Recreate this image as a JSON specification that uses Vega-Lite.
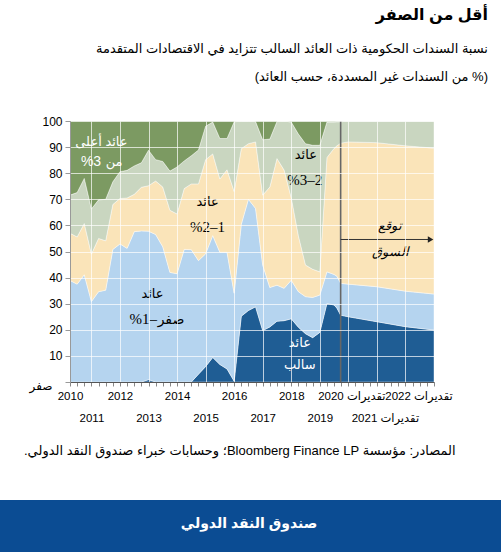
{
  "$schema": "https://vega.github.io/schema/vega-lite/v6.json",
  "width": 364,
  "height": 261,
  "autosize": {"type": "none"},
  "padding": {"left": 70, "top": 121, "right": 67, "bottom": 170},
  "background": "white",
  "config": {
    "view": {"stroke": null},
    "font": "Liberation Sans, DejaVu Sans, sans-serif",
    "axis": {"labelOverlap": false, "labelBound": false, "labelFlush": false, "zindex": 1, "labelColor": "#000000"}
  },
  "title": {
    "text": "أقل من الصفر",
    "subtitle": ["نسبة السندات الحكومية ذات العائد السالب تتزايد في الاقتصادات المتقدمة", "\u202b(% من السندات غير المسددة، حسب العائد)\u202c"],
    "anchor": "end",
    "frame": "group",
    "dx": 54,
    "offset": 31,
    "fontSize": 16,
    "fontWeight": "bold",
    "color": "#000000",
    "subtitleFontSize": 13,
    "subtitleColor": "#000000",
    "subtitlePadding": 20,
    "subtitleLineHeight": 28
  },
  "datasets": {
    "yields": [
      {"t":2010.25,"c":"1neg","v":0},{"t":2010.25,"c":"2z01","v":38.9},{"t":2010.25,"c":"3y12","v":18.1},{"t":2010.25,"c":"4y23","v":14.6},{"t":2010.25,"c":"5y3","v":28.4},
      {"t":2010.5,"c":"1neg","v":0},{"t":2010.5,"c":"2z01","v":37.5},{"t":2010.5,"c":"3y12","v":18.1},{"t":2010.5,"c":"4y23","v":17.0},{"t":2010.5,"c":"5y3","v":27.4},
      {"t":2010.75,"c":"1neg","v":0},{"t":2010.75,"c":"2z01","v":41.1},{"t":2010.75,"c":"3y12","v":19.6},{"t":2010.75,"c":"4y23","v":17.3},{"t":2010.75,"c":"5y3","v":22.0},
      {"t":2011,"c":"1neg","v":0},{"t":2011,"c":"2z01","v":30.8},{"t":2011,"c":"3y12","v":18.2},{"t":2011,"c":"4y23","v":17.3},{"t":2011,"c":"5y3","v":33.7},
      {"t":2011.25,"c":"1neg","v":0},{"t":2011.25,"c":"2z01","v":34.6},{"t":2011.25,"c":"3y12","v":20.4},{"t":2011.25,"c":"4y23","v":14.8},{"t":2011.25,"c":"5y3","v":30.2},
      {"t":2011.5,"c":"1neg","v":0},{"t":2011.5,"c":"2z01","v":35.2},{"t":2011.5,"c":"3y12","v":18.9},{"t":2011.5,"c":"4y23","v":15.9},{"t":2011.5,"c":"5y3","v":30.0},
      {"t":2011.75,"c":"1neg","v":0},{"t":2011.75,"c":"2z01","v":50.8},{"t":2011.75,"c":"3y12","v":17.2},{"t":2011.75,"c":"4y23","v":8.7},{"t":2011.75,"c":"5y3","v":23.3},
      {"t":2012,"c":"1neg","v":0},{"t":2012,"c":"2z01","v":52.9},{"t":2012,"c":"3y12","v":17.4},{"t":2012,"c":"4y23","v":10.3},{"t":2012,"c":"5y3","v":19.4},
      {"t":2012.25,"c":"1neg","v":0},{"t":2012.25,"c":"2z01","v":51.2},{"t":2012.25,"c":"3y12","v":19.3},{"t":2012.25,"c":"4y23","v":10.6},{"t":2012.25,"c":"5y3","v":18.9},
      {"t":2012.5,"c":"1neg","v":0},{"t":2012.5,"c":"2z01","v":57.6},{"t":2012.5,"c":"3y12","v":14.3},{"t":2012.5,"c":"4y23","v":10.9},{"t":2012.5,"c":"5y3","v":17.2},
      {"t":2012.75,"c":"1neg","v":0},{"t":2012.75,"c":"2z01","v":57.9},{"t":2012.75,"c":"3y12","v":16.7},{"t":2012.75,"c":"4y23","v":9.4},{"t":2012.75,"c":"5y3","v":16.0},
      {"t":2013,"c":"1neg","v":0.9},{"t":2013,"c":"2z01","v":56.9},{"t":2013,"c":"3y12","v":17.4},{"t":2013,"c":"4y23","v":13.6},{"t":2013,"c":"5y3","v":11.2},
      {"t":2013.25,"c":"1neg","v":0},{"t":2013.25,"c":"2z01","v":56.5},{"t":2013.25,"c":"3y12","v":20.5},{"t":2013.25,"c":"4y23","v":8.2},{"t":2013.25,"c":"5y3","v":14.8},
      {"t":2013.5,"c":"1neg","v":0},{"t":2013.5,"c":"2z01","v":51.8},{"t":2013.5,"c":"3y12","v":22.9},{"t":2013.5,"c":"4y23","v":9.8},{"t":2013.5,"c":"5y3","v":15.5},
      {"t":2013.75,"c":"1neg","v":0},{"t":2013.75,"c":"2z01","v":42.0},{"t":2013.75,"c":"3y12","v":23.8},{"t":2013.75,"c":"4y23","v":15.0},{"t":2013.75,"c":"5y3","v":19.2},
      {"t":2014,"c":"1neg","v":0},{"t":2014,"c":"2z01","v":41.5},{"t":2014,"c":"3y12","v":22.9},{"t":2014,"c":"4y23","v":18.0},{"t":2014,"c":"5y3","v":17.6},
      {"t":2014.25,"c":"1neg","v":0},{"t":2014.25,"c":"2z01","v":50.8},{"t":2014.25,"c":"3y12","v":23.3},{"t":2014.25,"c":"4y23","v":10.6},{"t":2014.25,"c":"5y3","v":15.3},
      {"t":2014.5,"c":"1neg","v":0},{"t":2014.5,"c":"2z01","v":50.7},{"t":2014.5,"c":"3y12","v":25.2},{"t":2014.5,"c":"4y23","v":10.8},{"t":2014.5,"c":"5y3","v":13.3},
      {"t":2014.75,"c":"1neg","v":3.0},{"t":2014.75,"c":"2z01","v":43.5},{"t":2014.75,"c":"3y12","v":29.4},{"t":2014.75,"c":"4y23","v":13.0},{"t":2014.75,"c":"5y3","v":11.1},
      {"t":2015,"c":"1neg","v":5.9},{"t":2015,"c":"2z01","v":43.2},{"t":2015,"c":"3y12","v":36.1},{"t":2015,"c":"4y23","v":12.8},{"t":2015,"c":"5y3","v":2.0},
      {"t":2015.25,"c":"1neg","v":9.4},{"t":2015.25,"c":"2z01","v":46.7},{"t":2015.25,"c":"3y12","v":31.3},{"t":2015.25,"c":"4y23","v":12.2},{"t":2015.25,"c":"5y3","v":0.4},
      {"t":2015.5,"c":"1neg","v":6.7},{"t":2015.5,"c":"2z01","v":43.0},{"t":2015.5,"c":"3y12","v":28.1},{"t":2015.5,"c":"4y23","v":15.5},{"t":2015.5,"c":"5y3","v":6.7},
      {"t":2015.75,"c":"1neg","v":5.0},{"t":2015.75,"c":"2z01","v":44.7},{"t":2015.75,"c":"3y12","v":31.6},{"t":2015.75,"c":"4y23","v":12.0},{"t":2015.75,"c":"5y3","v":6.7},
      {"t":2016,"c":"1neg","v":0.3},{"t":2016,"c":"2z01","v":33.7},{"t":2016,"c":"3y12","v":39.0},{"t":2016,"c":"4y23","v":26.7},{"t":2016,"c":"5y3","v":0.3},
      {"t":2016.25,"c":"1neg","v":25.2},{"t":2016.25,"c":"2z01","v":35.2},{"t":2016.25,"c":"3y12","v":29.0},{"t":2016.25,"c":"4y23","v":10.6},{"t":2016.25,"c":"5y3","v":0},
      {"t":2016.5,"c":"1neg","v":27.4},{"t":2016.5,"c":"2z01","v":42.6},{"t":2016.5,"c":"3y12","v":21.3},{"t":2016.5,"c":"4y23","v":8.7},{"t":2016.5,"c":"5y3","v":0},
      {"t":2016.75,"c":"1neg","v":28.8},{"t":2016.75,"c":"2z01","v":37.7},{"t":2016.75,"c":"3y12","v":25.5},{"t":2016.75,"c":"4y23","v":7.8},{"t":2016.75,"c":"5y3","v":0.2},
      {"t":2017,"c":"1neg","v":19.7},{"t":2017,"c":"2z01","v":25.1},{"t":2017,"c":"3y12","v":26.8},{"t":2017,"c":"4y23","v":21.2},{"t":2017,"c":"5y3","v":7.2},
      {"t":2017.25,"c":"1neg","v":21.1},{"t":2017.25,"c":"2z01","v":15.1},{"t":2017.25,"c":"3y12","v":38.5},{"t":2017.25,"c":"4y23","v":18.4},{"t":2017.25,"c":"5y3","v":6.9},
      {"t":2017.5,"c":"1neg","v":23.3},{"t":2017.5,"c":"2z01","v":13.8},{"t":2017.5,"c":"3y12","v":48.5},{"t":2017.5,"c":"4y23","v":14.2},{"t":2017.5,"c":"5y3","v":0.2},
      {"t":2017.75,"c":"1neg","v":23.5},{"t":2017.75,"c":"2z01","v":12.4},{"t":2017.75,"c":"3y12","v":45.3},{"t":2017.75,"c":"4y23","v":18.8},{"t":2017.75,"c":"5y3","v":0},
      {"t":2018,"c":"1neg","v":24.2},{"t":2018,"c":"2z01","v":14.8},{"t":2018,"c":"3y12","v":31.6},{"t":2018,"c":"4y23","v":29.0},{"t":2018,"c":"5y3","v":0.4},
      {"t":2018.25,"c":"1neg","v":21.0},{"t":2018.25,"c":"2z01","v":13.6},{"t":2018.25,"c":"3y12","v":21.4},{"t":2018.25,"c":"4y23","v":39.0},{"t":2018.25,"c":"5y3","v":5.0},
      {"t":2018.5,"c":"1neg","v":18.5},{"t":2018.5,"c":"2z01","v":14.2},{"t":2018.5,"c":"3y12","v":12.1},{"t":2018.5,"c":"4y23","v":46.5},{"t":2018.5,"c":"5y3","v":8.7},
      {"t":2018.75,"c":"1neg","v":17.0},{"t":2018.75,"c":"2z01","v":15.4},{"t":2018.75,"c":"3y12","v":10.8},{"t":2018.75,"c":"4y23","v":47.5},{"t":2018.75,"c":"5y3","v":9.3},
      {"t":2019,"c":"1neg","v":19.0},{"t":2019,"c":"2z01","v":14.3},{"t":2019,"c":"3y12","v":8.9},{"t":2019,"c":"4y23","v":48.5},{"t":2019,"c":"5y3","v":9.3},
      {"t":2019.25,"c":"1neg","v":30.1},{"t":2019.25,"c":"2z01","v":12.1},{"t":2019.25,"c":"3y12","v":43.8},{"t":2019.25,"c":"4y23","v":13.6},{"t":2019.25,"c":"5y3","v":0.4},
      {"t":2019.5,"c":"1neg","v":29.5},{"t":2019.5,"c":"2z01","v":11.7},{"t":2019.5,"c":"3y12","v":48.3},{"t":2019.5,"c":"4y23","v":10.1},{"t":2019.5,"c":"5y3","v":0.4},
      {"t":2019.6,"c":"1neg","v":28.3},{"t":2019.6,"c":"2z01","v":12.2},{"t":2019.6,"c":"3y12","v":50.0},{"t":2019.6,"c":"4y23","v":9.2},{"t":2019.6,"c":"5y3","v":0.3},
      {"t":2019.73,"c":"1neg","v":25.6},{"t":2019.73,"c":"2z01","v":12.2},{"t":2019.73,"c":"3y12","v":53.7},{"t":2019.73,"c":"4y23","v":8.2},{"t":2019.73,"c":"5y3","v":0.3},
      {"t":2020,"c":"1neg","v":25.0},{"t":2020,"c":"2z01","v":12.5},{"t":2020,"c":"3y12","v":54.5},{"t":2020,"c":"4y23","v":8.0},{"t":2020,"c":"5y3","v":0},
      {"t":2021,"c":"1neg","v":23.1},{"t":2021,"c":"2z01","v":13.4},{"t":2021,"c":"3y12","v":55.2},{"t":2021,"c":"4y23","v":8.3},{"t":2021,"c":"5y3","v":0},
      {"t":2022,"c":"1neg","v":21.2},{"t":2022,"c":"2z01","v":13.6},{"t":2022,"c":"3y12","v":55.7},{"t":2022,"c":"4y23","v":9.5},{"t":2022,"c":"5y3","v":0},
      {"t":2023,"c":"1neg","v":19.9},{"t":2023,"c":"2z01","v":13.8},{"t":2023,"c":"3y12","v":55.9},{"t":2023,"c":"4y23","v":10.4},{"t":2023,"c":"5y3","v":0}
    ]
  },
  "encoding": {
    "x": {
      "field": "t", "type": "quantitative",
      "scale": {"domain": [2010.25, 2023], "nice": false, "zero": false},
      "axis": {
        "values": [2010.25,2010.5,2010.75,2011,2011.25,2011.5,2011.75,2012,2012.25,2012.5,2012.75,2013,2013.25,2013.5,2013.75,2014,2014.25,2014.5,2014.75,2015,2015.25,2015.5,2015.75,2016,2016.25,2016.5,2016.75,2017,2017.25,2017.5,2017.75,2018,2018.25,2018.5,2018.75,2019,2019.25,2019.5,2019.75,2020,2020.25,2020.5,2020.75,2021,2021.25,2021.5,2021.75,2022,2022.25,2022.5,2022.75,2023],
        "labelExpr": "datum.value == 2010.25 ? '2010' : ((datum.value % 1 != 0 || datum.value > 2022) ? '' : (datum.value % 2 == 1 ? ['', (datum.value >= 2020 ? 'تقديرات ' : '') + datum.value] : (datum.value >= 2020 ? 'تقديرات ' : '') + datum.value))",
        "labelFontSize": 11.5,
        "labelColor": "#000000",
        "labelPadding": 4,
        "labelLineHeight": 22,
        "labelOffset": {"condition": [{"test": "datum.value == 2022", "value": 13}, {"test": "datum.value == 2021", "value": 8}, {"test": "datum.value == 2020", "value": 3}], "value": 0},
        "labelOverlap": false,
        "labelFlush": false,
        "labelBound": false,
        "tickSize": 4,
        "tickColor": "#888888",
        "domainColor": "#555555",
        "grid": true,
        "gridColor": "#ffffff",
        "gridOpacity": {"condition": {"test": "datum.value % 1 == 0 && datum.value < 2023", "value": 0.7}, "value": 0},
        "zindex": 1,
        "title": "\u202bالمصادر: مؤسسة Bloomberg Finance LP؛ وحسابات خبراء صندوق النقد الدولي.\u202c",
        "titleX": 385,
        "titleY": 68,
        "titleAlign": "right",
        "titleBaseline": "middle",
        "titleFontSize": 13,
        "titleFontWeight": "normal",
        "titleColor": "#000000"
      }
    },
    "y": {
      "field": "v", "type": "quantitative",
      "scale": {"domain": [0, 100], "nice": false},
      "axis": {
        "values": [0,10,20,30,40,50,60,70,80,90,100],
        "labelExpr": "datum.value == 0 ? 'صفر' : datum.label",
        "title": null,
        "tickSize": 5,
        "tickColor": "#999999",
        "domainColor": "#999999",
        "labelPadding": {"condition": {"test": "datum.value == 0", "value": 13}, "value": 3},
        "labelOffset": {"condition": {"test": "datum.value == 0", "value": 3}, "value": 0},
        "labelFontSize": 12,
        "labelColor": "#000000",
        "labelOverlap": false,
        "grid": true,
        "gridColor": "#ffffff",
        "gridOpacity": 0.7,
        "zindex": 1
      }
    }
  },
  "layer": [
    {
      "data": {"name": "yields"},
      "mark": {"type": "area", "interpolate": "linear", "stroke": "#ffffff", "strokeWidth": 0.6, "strokeOpacity": 0.7},
      "encoding": {
        "y": {
          "field": "v", "type": "quantitative", "stack": "zero",
          "scale": {"domain": [0, 100], "nice": false},
          "axis": {
            "values": [0,10,20,30,40,50,60,70,80,90,100],
            "labelExpr": "datum.value == 0 ? 'صفر' : datum.label",
            "title": null,
            "tickSize": 5,
            "tickColor": "#999999",
            "domainColor": "#999999",
            "labelPadding": {"condition": {"test": "datum.value == 0", "value": 13}, "value": 3},
            "labelOffset": {"condition": {"test": "datum.value == 0", "value": 3}, "value": 0},
            "labelFontSize": 12,
            "labelColor": "#000000",
            "labelOverlap": false,
            "grid": true,
            "gridColor": "#ffffff",
            "gridOpacity": 0.7,
            "zindex": 1
          }
        },
        "color": {
          "field": "c", "type": "nominal",
          "scale": {"domain": ["1neg","2z01","3y12","4y23","5y3"], "range": ["#1f5d94","#b5d4ef","#fae4b9","#c9d6c0","#7c9a62"]},
          "legend": null
        },
        "order": {"field": "c", "type": "nominal", "sort": "ascending"}
      }
    },
    {
      "data": {"values": [{"t": 2019.73, "v": 0, "v2": 100}]},
      "mark": {"type": "rule", "color": "#666666", "strokeWidth": 1.6},
      "encoding": {"y2": {"field": "v2"}}
    },
    {
      "data": {"values": [{"t": 2019.73, "t2": 2022.85, "v": 54.6}]},
      "mark": {"type": "rule", "color": "#333333", "strokeWidth": 1},
      "encoding": {"x2": {"field": "t2"}}
    },
    {
      "data": {"values": [{"t": 2022.88, "v": 54.6}]},
      "mark": {"type": "point", "shape": "triangle-right", "filled": true, "color": "#222222", "size": 40, "opacity": 1},
      "encoding": {}
    },
    {
      "data": {"values": [{"t": 2007, "t2": 2027, "v": -45.2, "v2": -75}]},
      "mark": {"type": "rect", "color": "#0b4c93"},
      "encoding": {"x2": {"field": "t2"}, "y2": {"field": "v2"}}
    },
    {
      "data": {"values": [{"t": 2016.52, "v": -54.4, "label": "صندوق النقد الدولي"}]},
      "mark": {"type": "text", "color": "#ffffff", "fontSize": 14, "fontWeight": "bold", "align": "center", "baseline": "middle"},
      "encoding": {"text": {"field": "label"}}
    },
    {
      "data": {"values": [
        {"t": 2011.35, "v": 92, "label": "عائد أعلى"},
        {"t": 2018.3, "v": 14.8, "label": "عائد"},
        {"t": 2018.3, "v": 6.5, "label": "سالب"}
      ]},
      "mark": {"type": "text", "color": "#ffffff", "fontSize": 13, "align": "center", "baseline": "middle"},
      "encoding": {"text": {"field": "label"}}
    },
    {
      "data": {"values": [{"t": 2011.34, "v": 84.3, "label": "%3"}]},
      "mark": {"type": "text", "color": "#ffffff", "fontSize": 14, "align": "right", "baseline": "middle"},
      "encoding": {"text": {"field": "label"}}
    },
    {
      "data": {"values": [{"t": 2011.5, "v": 84.3, "label": "من"}]},
      "mark": {"type": "text", "color": "#ffffff", "fontSize": 13, "align": "left", "baseline": "middle"},
      "encoding": {"text": {"field": "label"}}
    },
    {
      "data": {"values": [
        {"t": 2015.07, "v": 69, "label": "عائد"},
        {"t": 2013.14, "v": 33.9, "label": "عائد"},
        {"t": 2018.51, "v": 86.9, "label": "عائد"}
      ]},
      "mark": {"type": "text", "color": "#000000", "fontSize": 13, "align": "center", "baseline": "middle"},
      "encoding": {"text": {"field": "label"}}
    },
    {
      "data": {"values": [
        {"t": 2015.07, "v": 59.2, "label": "%2–1"},
        {"t": 2018.47, "v": 77.3, "label": "%3–2"}
      ]},
      "mark": {"type": "text", "color": "#000000", "fontSize": 15, "font": "Liberation Serif, serif", "align": "center", "baseline": "middle"},
      "encoding": {"text": {"field": "label"}}
    },
    {
      "data": {"values": [{"t": 2013.3, "v": 24, "label": "%1–"}]},
      "mark": {"type": "text", "color": "#000000", "fontSize": 15, "font": "Liberation Serif, serif", "align": "right", "baseline": "middle"},
      "encoding": {"text": {"field": "label"}}
    },
    {
      "data": {"values": [{"t": 2013.32, "v": 23.6, "label": "صفر"}]},
      "mark": {"type": "text", "color": "#000000", "fontSize": 14, "align": "left", "baseline": "middle"},
      "encoding": {"text": {"field": "label"}}
    },
    {
      "data": {"values": [
        {"t": 2021.46, "v": 59.7, "label": "توقع"},
        {"t": 2021.46, "v": 49.9, "label": "السوق"}
      ]},
      "mark": {"type": "text", "color": "#000000", "fontSize": 13, "fontStyle": "italic", "align": "center", "baseline": "middle"},
      "encoding": {"text": {"field": "label"}}
    }
  ]
}
